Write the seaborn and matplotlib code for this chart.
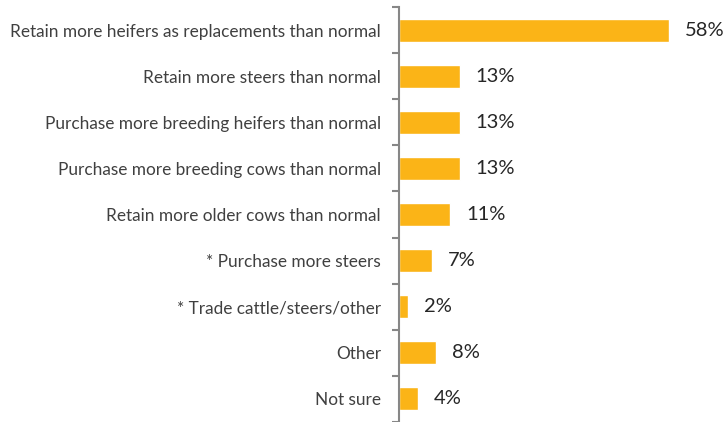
import matplotlib
matplotlib.use("Agg")
import matplotlib.pyplot as plt
from matplotlib.ticker import FixedLocator
import seaborn as sns
import pandas as pd

categories = [
    "Retain more heifers as replacements than normal",
    "Retain more steers than normal",
    "Purchase more breeding heifers than normal",
    "Purchase more breeding cows than normal",
    "Retain more older cows than normal",
    "* Purchase more steers",
    "* Trade cattle/steers/other",
    "Other",
    "Not sure",
]
values = [58, 13, 13, 13, 11, 7, 2, 8, 4]

df = pd.DataFrame({"category": categories, "pct": values})

sns.set_theme(style="white")
plt.rcParams["font.family"] = ["Lato", "DejaVu Sans"]

fig = plt.figure(figsize=(7.25, 4.22), dpi=100)
ax = fig.add_axes([399 / 725, 0 / 422, 1 - 399 / 725, 415 / 422])

sns.barplot(data=df, x="pct", y="category", orient="h", color="#FBB417",
            width=0.5, saturation=1, ax=ax)

ax.set_xlim(0, 70)
ax.set_ylim(len(categories) - 0.5, -0.5)
ax.set_xlabel("")
ax.set_ylabel("")
ax.set_xticks([])

for i, v in enumerate(values):
    ax.text(v + 3.4, i, f"{v}%", va="center", ha="left",
            fontsize=14.5, color="#262626")

for s in ["top", "right", "bottom"]:
    ax.spines[s].set_visible(False)
ax.spines["left"].set_color("#878787")
ax.spines["left"].set_linewidth(1.5)

ax.yaxis.set_minor_locator(FixedLocator([i - 0.5 for i in range(len(categories) + 1)]))
ax.tick_params(axis="y", which="major", length=0, pad=13, labelsize=12.4, labelcolor="#404040")
ax.tick_params(axis="y", which="minor", length=5, width=1.5, color="#878787", left=True)

fig.savefig("out.png", dpi=100)
